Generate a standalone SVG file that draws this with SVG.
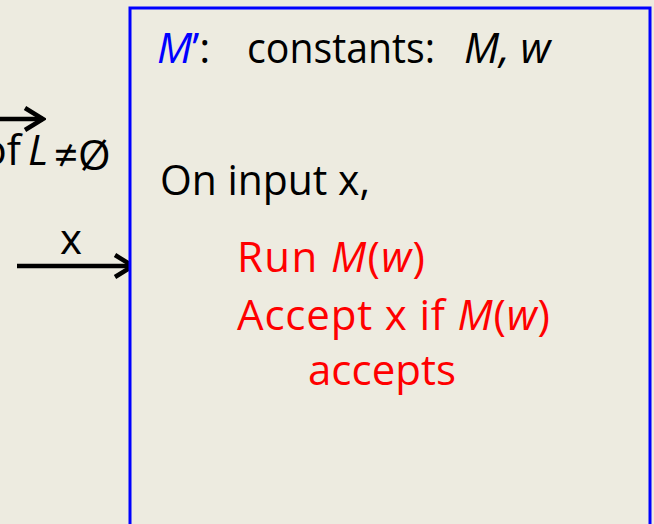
<svg xmlns="http://www.w3.org/2000/svg" width="654" height="524" viewBox="0 0 654 524">
<style>
text{font-family:"Open Sans","Liberation Sans",sans-serif;font-size:42px;fill:#000}
.red{fill:#ff0000}
.blue{fill:#0000ff}
.it{font-style:italic}
.conn{stroke:#000;stroke-width:4.5;fill:none}
</style>
<defs>
<marker id="ah" viewBox="0 0 24 26" refX="21" refY="13" markerWidth="24" markerHeight="26" markerUnits="userSpaceOnUse" orient="auto">
<path d="M3,2 L21,13 L3,24" fill="none" stroke="#000" stroke-width="4.5"/>
</marker>
</defs>
<rect width="654" height="524" fill="#edebe0"/>
<g id="connectors">
<line class="conn" x1="-5" y1="119" x2="43" y2="119" marker-end="url(#ah)"/>
<line class="conn" x1="17" y1="266" x2="133" y2="266" marker-end="url(#ah)"/>
</g>
<g id="label-top">
<text x="21" y="165" text-anchor="end">of</text>
<text class="it" x="28" y="165">L</text>
<text x="54" y="170" font-size="21">≠Ø</text>
</g>
<g id="label-x">
<text x="60" y="254">x</text>
</g>
<g id="node-M">
<rect x="130" y="8" width="520" height="530" fill="#edebe0" stroke="#0000ff" stroke-width="3"/>
<text x="157" y="63"><tspan class="it blue">M</tspan><tspan class="blue">’</tspan>:</text>
<text x="247" y="63" textLength="188" lengthAdjust="spacingAndGlyphs">constants:</text>
<text class="it" x="464" y="63">M, w</text>
<text x="160" y="195" textLength="210" lengthAdjust="spacingAndGlyphs">On input x,</text>
<text class="red" x="237" y="272" textLength="188" lengthAdjust="spacing">Run <tspan class="it">M</tspan>(<tspan class="it">w</tspan>)</text>
<text class="red" x="237" y="330" textLength="313" lengthAdjust="spacing">Accept x if <tspan class="it">M</tspan>(<tspan class="it">w</tspan>)</text>
<text class="red" x="308" y="385" textLength="148" lengthAdjust="spacing">accepts</text>
</g>
</svg>
